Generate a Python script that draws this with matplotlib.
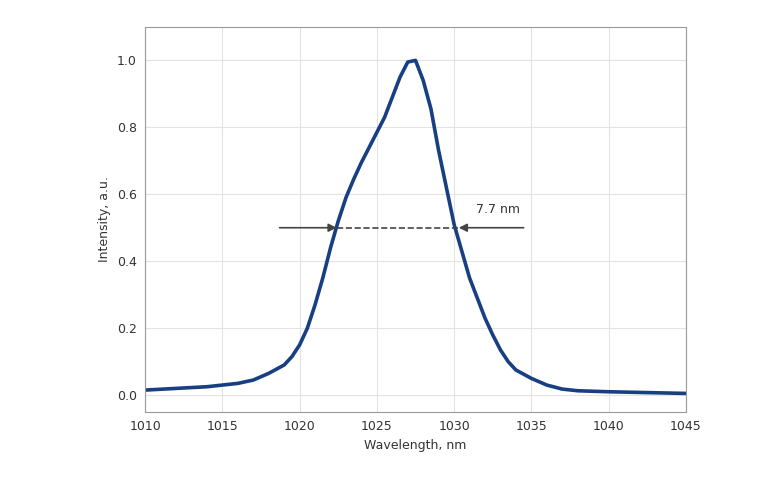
import matplotlib
matplotlib.use("Agg")
import matplotlib.pyplot as plt

wavelength = [1010, 1012, 1014, 1015, 1016, 1017, 1018, 1019, 1019.5, 1020, 1020.5,
              1021, 1021.5, 1022, 1022.5, 1023, 1023.5, 1024, 1024.5, 1025, 1025.5,
              1026, 1026.5, 1027, 1027.5, 1028, 1028.5, 1029, 1029.5, 1030, 1030.5,
              1031, 1031.5, 1032, 1032.5, 1033, 1033.5, 1034, 1035, 1036, 1037,
              1038, 1040, 1042, 1045]
intensity = [0.015, 0.02, 0.025, 0.03, 0.035, 0.045, 0.065, 0.09, 0.115, 0.15, 0.2,
             0.27, 0.35, 0.44, 0.52, 0.59, 0.645, 0.695, 0.74, 0.785, 0.83,
             0.89, 0.95, 0.995, 1.0, 0.94, 0.855, 0.73, 0.62, 0.51, 0.43,
             0.35, 0.29, 0.23, 0.18, 0.135, 0.10, 0.075, 0.05, 0.03, 0.018,
             0.013, 0.01, 0.008, 0.005]
fwhm_left, fwhm_right, half = 1022.4, 1030.3, 0.5
fwhm_label = "7.7 nm"

fig = plt.figure(figsize=(7.68, 4.8), dpi=100)
ax = fig.add_axes([0.189, 0.142, 0.704, 0.802])
ax.plot(wavelength, intensity, color="#173f82", lw=2.6)
ax.set_xlim(1010, 1045)
ax.set_ylim(-0.05, 1.1)
ax.set_xticks([1010, 1015, 1020, 1025, 1030, 1035, 1040, 1045])
ax.set_yticks([0.0, 0.2, 0.4, 0.6, 0.8, 1.0])
ax.set_yticklabels(["0.0", "0.2", "0.4", "0.6", "0.8", "1.0"])
ax.grid(color="#e3e3e3", lw=0.8)
ax.set_axisbelow(True)
for s in ax.spines.values():
    s.set_color("#9a9a9a")
    s.set_linewidth(0.8)
ax.tick_params(length=0, labelsize=9, colors="#333333", pad=6)
ax.set_xlabel("Wavelength, nm", fontsize=9, color="#333333")
ax.set_ylabel("Intensity, a.u.", fontsize=9, color="#333333")

# FWHM markers
ax.plot([fwhm_left, fwhm_right], [half, half], ls="--", color="#444444", lw=1.2)
ax.annotate("", xy=(fwhm_left, half), xytext=(fwhm_left - 3.7, half),
            arrowprops=dict(arrowstyle="-|>", color="#444444", lw=1.2, mutation_scale=12,
                            shrinkA=0, shrinkB=0))
ax.annotate("", xy=(fwhm_right, half), xytext=(fwhm_right + 4.2, half),
            arrowprops=dict(arrowstyle="-|>", color="#444444", lw=1.2, mutation_scale=12,
                            shrinkA=0, shrinkB=0))
ax.text(1031.4, 0.535, fwhm_label, fontsize=9, color="#333333", va="bottom")

fig.savefig("out.png", dpi=100)
